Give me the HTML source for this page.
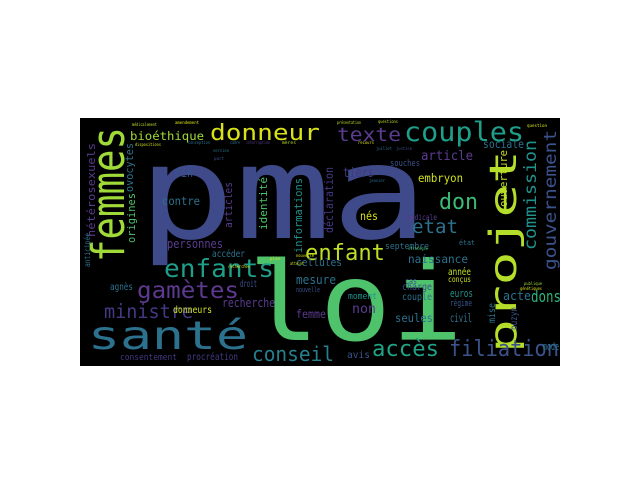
<!DOCTYPE html>
<html><head><meta charset="utf-8"><style>
html,body{margin:0;padding:0;background:#fff;width:640px;height:480px;overflow:hidden}
svg text{font-family:"DejaVu Sans Mono","Liberation Mono",monospace}
</style></head><body>
<svg id="cloud" width="640" height="480" viewBox="0 0 640 480" xmlns="http://www.w3.org/2000/svg">
<rect x="80" y="118" width="480" height="248" fill="#000"/>
<g id="words"></g>
</svg>
<script>
// word, x, baseline y, font size, colour, rotation, text length
const words = [
 ["pma",138,238,167,"#3e4a89",0,290],
 ["loi",248,340,140,"#4ec36b",0,215],
 ["projet",516,353,48,"#b5de2b",-90,203],
 ["femmes",124,262,58,"#a0da39",-90,135],
 ["santé",88,349,50,"#2c728e",0,160],
 ["donneur",210,140,28,"#d8e219",0,110],
 ["texte",337,141,24,"#5b3c8f",0,64],
 ["couples",404,141,34,"#1f9e89",0,120],
 ["enfants",164,277,32,"#1f9e89",0,110],
 ["gamètes",137,298,30,"#5d3a8f",0,102],
 ["ministre",104,318,25,"#443983",0,89],
 ["conseil",252,361,26,"#277f8e",0,82],
 ["accès",372,356,28,"#20a386",0,67],
 ["filiation",449,356,28,"#3b528b",0,110],
 ["enfant",305,260,28,"#bddf26",0,80],
 ["etat",412,233,24,"#2c728e",0,46],
 ["don",439,209,28,"#3bbb75",0,39],
 ["commission",536,250,22,"#21918c",-90,110],
 ["gouvernement",556,270,22,"#3b528b",-90,140],
 ["dons",531,302,20,"#2fb47c",0,30],
 ["acte",503,300,16,"#2c728e",0,28],
 ["article",421,160,17,"#5b3c8f",0,52],
 ["sociale",483,148,15,"#2c728e",0,41],
 ["tiers",343,177,17,"#443983",0,31],
 ["embryon",418,182,15,"#d0e11c",0,45],
 ["nés",360,220,15,"#d8e219",0,18],
 ["déclaration",333,233,15,"#443983",-90,66],
 ["naissance",408,263,15,"#2c728e",0,60],
 ["septembre",385,249,11,"#2c728e",0,44],
 ["année",448,275,13,"#bddf26",0,23],
 ["conçus",448,282,10,"#d0e11c",0,23],
 ["euros",450,297,14,"#21918c",0,23],
 ["régime",450,306,11,"#3b528b",0,22],
 ["civil",450,322,15,"#2c728e",0,22],
 ["seules",395,322,15,"#2c728e",0,38],
 ["non",352,313,17,"#5b3c8f",0,24],
 ["couple",402,300,12,"#2c728e",0,30],
 ["charge",402,290,12,"#3b528b",0,30],
 ["moment",348,299,11,"#21918c",0,29],
 ["cas",405,284,11,"#3b528b",0,12],
 ["mise",495,323,13,"#2c728e",-90,20],
 ["buzyn",517,330,13,"#3b528b",-90,23],
 ["ouverture",507,207,14,"#c2df23",-90,57],
 ["mode",543,350,14,"#2c728e",0,16],
 ["avis",347,358,13,"#3b528b",0,23],
 ["bioéthique",130,140,15,"#a0da39",0,74],
 ["hétérosexuels",95,237,14,"#5b3c8f",-90,94],
 ["ovocytes",133,192,14,"#2c728e",-90,49],
 ["origines",135,243,14,"#4ec36b",-90,50],
 ["anticipée",90,267,10,"#2c728e",-90,34],
 ["fin",175,177,16,"#3b528b",0,18],
 ["contre",162,205,15,"#2c728e",0,38],
 ["articles",232,228,14,"#5b3c8f",-90,46],
 ["identité",267,230,14,"#4ec36b",-90,53],
 ["informations",302,253,14,"#21918c",-90,75],
 ["personnes",167,248,16,"#5b3c8f",0,56],
 ["accéder",212,257,12,"#2c728e",0,33],
 ["droit",240,287,12,"#3b528b",0,17],
 ["agnès",110,290,13,"#2c728e",0,23],
 ["recherche",222,307,16,"#5b3c8f",0,53],
 ["donneurs",173,313,12,"#d0e11c",0,39],
 ["consentement",120,360,11,"#443983",0,57],
 ["procréation",187,360,12,"#443983",0,51],
 ["cellules",296,266,14,"#2c728e",0,46],
 ["mesure",296,284,16,"#2c728e",0,40],
 ["femme",296,318,15,"#5b3c8f",0,30],
 ["nouvelle",296,292,9,"#3b528b",0,24],
 ["souches",390,166,11,"#3b528b",0,30],
 ["médicale",407,220,10,"#5b3c8f",0,30],
 ["état",459,245,9,"#2c728e",0,16],
 ["médicalement",132,126,6,"#bddf26",0,25],
 ["amendement",175,124,6,"#d8e219",0,24],
 ["présentation",337,124,6,"#bddf26",0,24],
 ["questions",378,123,6,"#bddf26",0,20],
 ["question",527,127,6,"#d8e219",0,20],
 ["dispositions",135,146,6,"#d0e11c",0,26],
 ["conception",188,144,6,"#2c728e",0,22],
 ["cadre",230,144,6,"#2c728e",0,10],
 ["interruption",246,144,6,"#5b3c8f",0,24],
 ["mères",282,144,6,"#bddf26",0,14],
 ["version",213,152,6,"#2c728e",0,16],
 ["part",214,160,6,"#3b528b",0,10],
 ["recours",358,144,6,"#d8e219",0,16],
 ["juillet",376,150,6,"#2c728e",0,16],
 ["justice",396,150,6,"#3b528b",0,16],
 ["janvier",369,182,6,"#2c728e",0,16],
 ["nouvelle",296,257,6,"#d8e219",0,18],
 ["plan",270,260,6,"#d8e219",0,10],
 ["atteint",290,265,6,"#d8e219",0,14],
 ["recherches",228,268,6,"#d8e219",0,22],
 ["génétiques",520,290,6,"#d8e219",0,22],
 ["publique",524,285,6,"#a0da39",0,18],
 ["stratégie",408,250,6,"#4ec36b",0,20]
];
const SCALE = 0.78;
const g = document.getElementById('words');
const NS = 'http://www.w3.org/2000/svg';
words.forEach(function(w){
  const t = document.createElementNS(NS,'text');
  
  
  t.setAttribute('x', w[1]);
  t.setAttribute('y', w[2]);
  t.setAttribute('font-size', (w[3] * SCALE).toFixed(1));
  t.setAttribute('fill', w[4]);
  if (w[5]) t.setAttribute('transform', 'rotate(' + w[5] + ' ' + w[1] + ' ' + w[2] + ')');
  t.setAttribute('textLength', w[6]);
  t.setAttribute('lengthAdjust', 'spacingAndGlyphs');
  t.textContent = w[0];
  g.appendChild(t);
});
</script>
</body></html>
